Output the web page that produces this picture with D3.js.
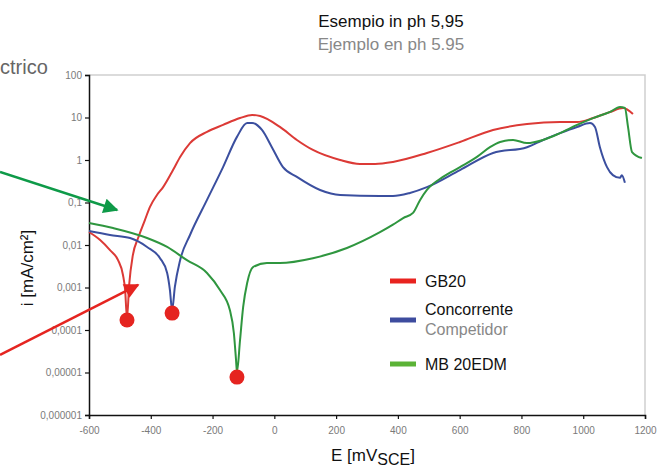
<!DOCTYPE html>
<html>
<head>
<meta charset="utf-8">
<script src="https://cdn.jsdelivr.net/npm/d3@7"></script>
<style>
  body { margin: 0; background: #fff; }
  svg { font-family: "Liberation Sans", Arial, sans-serif; }
</style>
</head>
<body>
<script>
// data: E [mV], i [mA/cm2]
var gb20 = [[-600,0.0202],[-564,0.0131],[-532,0.0076],[-506,0.0044],[-490,0.00197],[-483,0.00087],
	[-477,0.00019],[-470,0.00115],[-458,0.0058],[-441,0.0146],[-419,0.0387],[-403,0.078],[-380,0.15],
	[-360,0.23],[-328,0.58],[-305,1.18],[-273,2.5],[-218,4.6],[-166,6.7],[-111,9.7],[-72,11.5],
	[-46,10.8],[18,6.0],[73,2.96],[125,1.72],[213,1.0],[277,0.81],[326,0.81],[384,0.9],[494,1.46],
	[601,2.65],[708,5.1],[818,7.0],[925,7.8],[980,7.8],[1032,9.7],[1087,13.5],[1129,16.7],[1161,12.1]];

var concorrente = [[-600,0.0213],[-532,0.0172],[-467,0.0146],[-412,0.009],[-370,0.0049],[-347,0.0022],
	[-338,0.00087],[-331,0.000296],[-322,0.00103],[-305,0.0044],[-273,0.0172],[-218,0.115],[-166,0.68],
	[-121,3.5],[-88,7.4],[-72,7.4],[-40,5.1],[-8,2.0],[28,0.68],[73,0.40],[148,0.197],[213,0.15],
	[342,0.142],[384,0.142],[439,0.168],[494,0.23],[601,0.58],[708,1.46],[818,2.0],[870,2.96],
	[925,4.3],[980,6.0],[1022,7.4],[1038,6.0],[1054,2.0],[1077,0.68],[1096,0.44],[1119,0.38],
	[1125,0.44],[1135,0.29]];

var mb20edm = [[-600,0.033],[-522,0.025],[-412,0.0146],[-347,0.009],[-283,0.0044],[-218,0.0022],
	[-176,0.00087],[-144,0.000296],[-131,0.000085],[-124,0.0000197],[-121,0.0000103],[-111,0.0000582],
	[-101,0.000347],[-88,0.00128],[-69,0.00303],[-24,0.00377],[18,0.00377],[125,0.0049],[235,0.0085],
	[342,0.020],[384,0.030],[417,0.043],[449,0.057],[472,0.115],[494,0.197],[546,0.40],[601,0.68],
	[656,1.18],[698,2.0],[731,2.65],[773,2.96],[818,2.5],[870,2.96],[925,4.3],[980,6.7],[1032,9.7],
	[1087,13.5],[1119,17.7],[1135,16.7],[1145,6.0],[1158,1.54],[1190,1.11]];

// corrosion potentials (red dots)
var ecorr = [[-477,0.000172],[-331,0.00025],[-121,0.0000078]];

var xTicks = [-600,-400,-200,0,200,400,600,800,1000,1200];
var yTicks = [1e2,1e1,1,1e-1,1e-2,1e-3,1e-4,1e-5,1e-6];
var yTickLabels = ["100","10","1","0,1","0,01","0,001","0,0001","0,00001","0,000001"];

var series = [
	{name: "GB20", data: gb20, color: "#dc3a36", legend: "#e8231f"},
	{name: "Concorrente", sub: "Competidor", data: concorrente, color: "#3b4f9f", legend: "#3d4c9e"},
	{name: "MB 20EDM", data: mb20edm, color: "#2f963f", legend: "#5bb336"}
];

var W = 669, H = 471;
var svg = d3.select("body").append("svg")
	.attr("width", W)
	.attr("height", H);

var x = d3.scaleLinear().domain([-600, 1200]).range([89, 645]);
var y = d3.scaleLog().domain([1e-6, 100]).range([415, 75]);

// top / right frame
svg.append("path")
	.attr("d", "M" + x(-600) + "," + y(100) + "H" + x(1200) + "V" + y(1e-6))
	.attr("fill", "none")
	.attr("stroke", "#cfcfcf")
	.attr("stroke-width", 1.5);

// axes
var gx = svg.append("g")
	.attr("transform", "translate(0," + y(1e-6) + ")")
	.call(d3.axisBottom(x).tickValues(xTicks).tickSize(4).tickPadding(8)
		.tickFormat(function(d){ return String(d); }));
var gy = svg.append("g")
	.attr("transform", "translate(" + x(-600) + ",0)")
	.call(d3.axisLeft(y).tickValues(yTicks).tickSize(4).tickPadding(3)
		.tickFormat(function(d, i){ return yTickLabels[i]; }));
[gx, gy].forEach(function(g){
	g.select(".domain").attr("stroke", "#111").attr("stroke-width", 1.5);
	g.selectAll(".tick line").attr("stroke", "#111").attr("stroke-width", 1.2);
	g.selectAll(".tick text").attr("fill", "#7a7a7a").style("font-size", "10px");
});

// curves
var line = d3.line()
	.curve(d3.curveMonotoneX)
	.x(function(d){ return x(d[0]); })
	.y(function(d){ return y(d[1]); });

svg.selectAll("path.curve")
	.data(series)
	.enter().append("path")
	.attr("class", "curve")
	.attr("d", function(d){ return line(d.data); })
	.attr("fill", "none")
	.attr("stroke", function(d){ return d.color; })
	.attr("stroke-width", 2)
	.attr("stroke-linejoin", "round");

// Ecorr dots
svg.selectAll("circle.ecorr")
	.data(ecorr)
	.enter().append("circle")
	.attr("class", "ecorr")
	.attr("cx", function(d){ return x(d[0]); })
	.attr("cy", function(d){ return y(d[1]); })
	.attr("r", 7.5)
	.attr("fill", "#e52420");

// annotation arrows (from left text, cut off)
var arrows = [
	{from: [-888, 0.522], to: [-509, 0.0667], color: "#0e9a48", id: "ag"},
	{from: [-888, 0.0000258], to: [-441, 0.00115], color: "#e52420", id: "ar"}
];
var defs = svg.append("defs");
arrows.forEach(function(a){
	defs.append("marker")
		.attr("id", a.id)
		.attr("viewBox", "0 0 10 10")
		.attr("refX", 9).attr("refY", 5)
		.attr("markerWidth", 7).attr("markerHeight", 6)
		.attr("markerUnits", "strokeWidth")
		.attr("orient", "auto")
		.append("path")
		.attr("d", "M0,0L10,5L0,10z")
		.attr("fill", a.color);
	svg.append("line")
		.attr("x1", x(a.from[0])).attr("y1", y(a.from[1]))
		.attr("x2", x(a.to[0])).attr("y2", y(a.to[1]))
		.attr("stroke", a.color)
		.attr("stroke-width", 2.5)
		.attr("marker-end", "url(#" + a.id + ")");
});

svg.append("text")
	.attr("x", 0).attr("y", 74)
	.attr("fill", "#666")
	.style("font-size", "20px")
	.text("ctrico");

// titles
svg.append("text")
	.attr("x", 391).attr("y", 27)
	.attr("text-anchor", "middle")
	.attr("fill", "#111")
	.style("font-size", "17px")
	.text("Esempio in ph 5,95");
svg.append("text")
	.attr("x", 391).attr("y", 50)
	.attr("text-anchor", "middle")
	.attr("fill", "#888")
	.style("font-size", "17px")
	.text("Ejemplo en ph 5.95");

// axis labels
svg.append("text")
	.attr("transform", "translate(33,268) rotate(-90)")
	.attr("text-anchor", "middle")
	.attr("fill", "#111")
	.style("font-size", "17px")
	.text("i [mA/cm²]");

var xl = svg.append("text")
	.attr("x", 373).attr("y", 461)
	.attr("text-anchor", "middle")
	.attr("fill", "#111")
	.style("font-size", "17px");
xl.append("tspan").text("E [mV");
xl.append("tspan").attr("dy", 4).style("font-size", "16px").text("SCE");
xl.append("tspan").attr("dy", -4).text("]");

// legend
var legY = [281, 320, 364];
var leg = svg.selectAll("g.leg")
	.data(series)
	.enter().append("g")
	.attr("class", "leg")
	.attr("transform", function(d, i){ return "translate(390," + legY[i] + ")"; });
leg.append("line")
	.attr("x1", 0).attr("x2", 26)
	.attr("stroke", function(d){ return d.legend; })
	.attr("stroke-width", 5);
leg.append("text")
	.attr("x", 35)
	.attr("y", function(d){ return d.sub ? -5 : 6; })
	.attr("fill", "#111")
	.style("font-size", "16px")
	.text(function(d){ return d.name; });
leg.filter(function(d){ return d.sub; })
	.append("text")
	.attr("x", 35).attr("y", 15)
	.attr("fill", "#888")
	.style("font-size", "16px")
	.text(function(d){ return d.sub; });
</script>
</body>
</html>
